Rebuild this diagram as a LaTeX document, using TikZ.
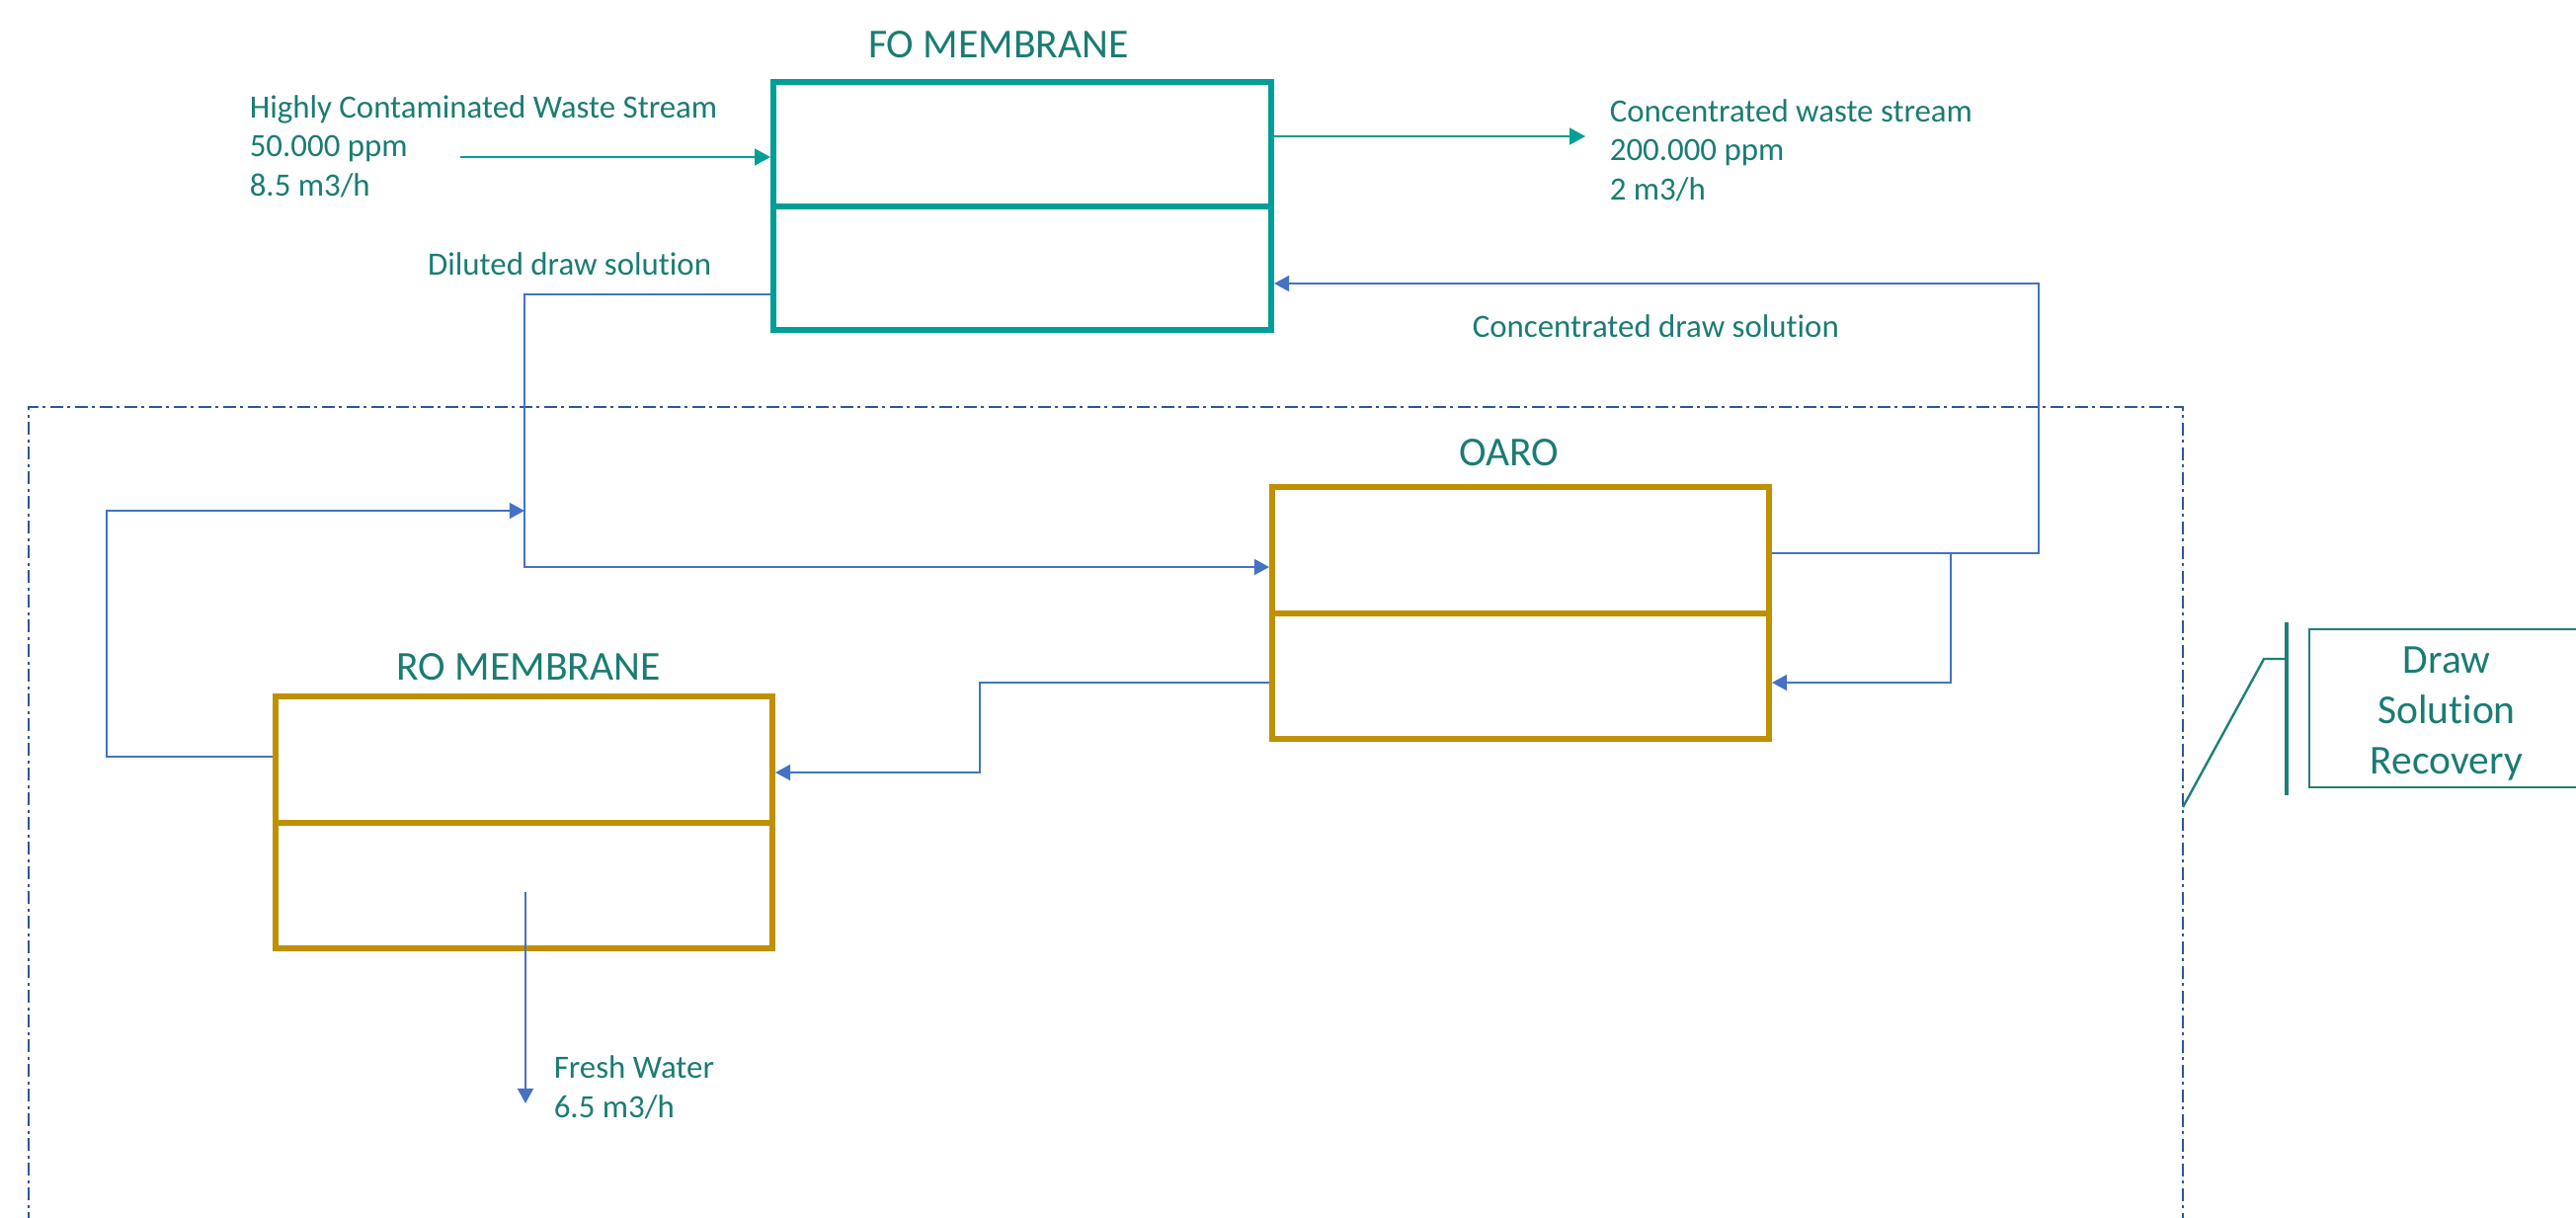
\documentclass[tikz,border=0pt]{standalone}
\usepackage{fontspec}
\setmainfont{Carlito}[Ligatures=NoCommon]
\usetikzlibrary{arrows.meta}
\definecolor{txtteal}{RGB}{26,124,114}
\definecolor{fobox}{RGB}{0,158,150}
\definecolor{goldbox}{RGB}{191,144,0}
\definecolor{flowblue}{RGB}{68,114,196}
\definecolor{framecol}{RGB}{47,85,151}
\definecolor{callcol}{RGB}{30,128,118}
\tikzset{
  unitbox/.style={draw, rectangle, inner sep=0pt, line width=1.5pt, fill=white},
  fostyle/.style={unitbox, draw=fobox, minimum width=126pt, minimum height=62.75pt},
  goldstyle/.style={unitbox, draw=goldbox, minimum width=125.75pt, minimum height=63.75pt},
  divider/.style={line width=1.5pt},
  flow/.style={draw=flowblue, line width=0.5pt},
  flowarrow/.style={flow, -{Triangle[length=3.8pt,width=4pt]}},
  tealarrow/.style={draw=fobox, line width=0.6pt, -{Triangle[length=4pt,width=4.2pt]}},
  lbl/.style={text=txtteal, inner sep=0pt, align=left, font=\fontsize{8.22pt}{9.9pt}\selectfont},
  title/.style={text=txtteal, inner sep=0pt, font=\fontsize{10.4pt}{12pt}\selectfont},
  framestyle/.style={draw=framecol, line width=0.5pt, dash pattern=on 3.25pt off 1pt on 0.75pt off 1.25pt},
}
\begin{document}
\begin{tikzpicture}[x=0.25pt,y=-0.25pt]
\clip (0,0) rectangle (2608,1232);
\useasboundingbox (0,0) rectangle (2608,1232);
\fill[white] (0,0) rectangle (2608,1232);

% dashed frame of draw solution recovery
\draw[framestyle] (29,1240) -- (29,412) -- (2210,412) -- (2210,1240);

% boxes
\node[fostyle] (fo) at (1035,208.5) {};
\draw[divider, draw=fobox] (fo.west) -- (fo.east);
\node[goldstyle] (oaro) at (1539.5,620.5) {};
\draw[divider, draw=goldbox] (oaro.west) -- (oaro.east);
\node[goldstyle] (ro) at (530.5,832.5) {};
\draw[divider, draw=goldbox] (ro.west) -- (ro.east);

% titles
\node[title] (fot) at (1011,45) {FO MEMBRANE};
\node[title] (oarot) at (1528,458) {OARO};
\node[title] (rot) at (535,675) {RO MEMBRANE};

% waste in / out
\node[lbl, anchor=west] (wastein) at (252,148) {Highly Contaminated Waste Stream\\50.000 ppm\\8.5 m3/h};
\coordinate (win) at (466,159);
\draw[tealarrow] (win) -- (win -| fo.west);
\node[lbl, anchor=west] (wasteout) at (1629,152) {Concentrated waste stream\\200.000 ppm\\2 m3/h};
\coordinate (wout) at (1605,138);
\draw[tealarrow] (fo.east |- wout) -- (wout);

% diluted draw solution
\node[lbl, anchor=east] (dillbl) at (721,267) {Diluted draw solution};
\coordinate (dil) at (531,298);
\coordinate (oin) at (531,574);
\draw[flowarrow] (fo.west |- dil) -- (dil) -- (oin) -- (oin -| oaro.west);

% concentrated draw solution back to FO
\node[lbl, anchor=west] (conclbl) at (1490,330) {Concentrated draw solution};
\coordinate (cr1) at (2064,560);
\coordinate (cr2) at (2064,287);
\draw[flowarrow] (oaro.east |- cr1) -- (cr1) -- (cr2) -- (cr2 -| fo.east);
\coordinate (br1) at (1975,560);
\coordinate (br2) at (1975,691);
\draw[flowarrow] (br1) -- (br2) -- (br2 -| oaro.east);

% OARO to RO
\coordinate (or1) at (992,691);
\coordinate (or2) at (992,782);
\draw[flowarrow] (oaro.west |- or1) -- (or1) -- (or2) -- (or2 -| ro.east);

% RO recycle
\coordinate (rc1) at (108,766);
\coordinate (rc2) at (108,517);
\draw[flowarrow] (ro.west |- rc1) -- (rc1) -- (rc2) -- (rc2 -| dil);

% fresh water
\coordinate (fw1) at (532,903);
\coordinate (fw2) at (532,1117);
\draw[flowarrow] (fw1) -- (fw2);
\node[lbl, anchor=west] (fwlbl) at (560,1101) {Fresh Water\\6.5 m3/h};

% callout
\node[draw=callcol, line width=0.6pt, rectangle, minimum width=70.5pt, minimum height=40pt, inner sep=0pt] (dsr) at (2479,717) {};
\node[text=txtteal, align=center, inner sep=0pt, font=\fontsize{10.4pt}{12.75pt}\selectfont] (dsrt) at (2477,722) {Draw\\Solution\\Recovery};
\coordinate (cb1) at (2315,630);
\coordinate (cb2) at (2315,805);
\coordinate (ck) at (2292,667);
\coordinate (cf) at (2210,817);
\draw[draw=callcol, line width=0.9pt] (cb1) -- (cb2);
\draw[draw=callcol, line width=0.6pt] (cf) -- (ck) -- (ck -| cb1);
\end{tikzpicture}
\end{document}
